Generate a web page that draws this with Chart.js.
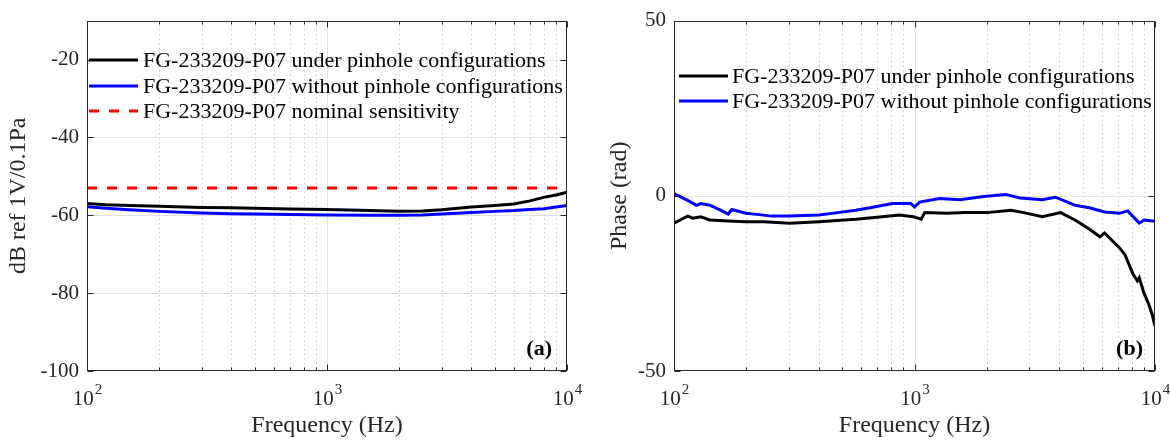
<!DOCTYPE html>
<html>
<head>
<meta charset="utf-8">
<script src="https://cdn.jsdelivr.net/npm/chart.js@4.4.0/dist/chart.umd.min.js"></script>
<style>
html, body { margin: 0; padding: 0; background: #fff; }
#wrap { width: 1170px; height: 443px; display: flex; }
.panel { width: 585px; height: 443px; }
</style>
</head>
<body>
<div id="wrap">
  <div class="panel"><canvas id="magChart" width="585" height="443"></canvas></div>
  <div class="panel"><canvas id="phaseChart" width="585" height="443"></canvas></div>
</div>
<script>
// ---- data ----
const freqMag = [100, 120, 150, 200, 300, 400, 500, 700, 1000, 1500, 2000, 2500, 3000, 4000, 5000, 6000, 7000, 8000, 9000, 10000];
const magUnder = [-57.0, -57.3, -57.5, -57.7, -58.0, -58.1, -58.2, -58.4, -58.5, -58.8, -59.0, -58.9, -58.6, -57.9, -57.5, -57.1, -56.3, -55.4, -54.8, -54.1];
const magWithout = [-57.8, -58.2, -58.6, -59.0, -59.4, -59.6, -59.7, -59.8, -59.9, -60.0, -60.0, -59.9, -59.7, -59.3, -59.0, -58.8, -58.5, -58.3, -57.9, -57.5];
const nominalFreq = [100, 10000];
const nominalSens = [-53, -53];

const freqPhaseUnder = [100, 106, 114, 120, 129, 141, 168, 199, 236, 303, 401, 570, 700, 865, 990, 1066, 1103, 1360, 1620, 2000,
  2520, 2850, 3400, 4050, 4650, 5330, 5900, 6170, 7110, 7500, 8100, 8450, 8600, 9000, 9400, 9700, 10000];
const phaseUnder = [-7.8, -6.9, -5.8, -6.4, -6.0, -6.9, -7.2, -7.4, -7.4, -7.8, -7.4, -6.7, -6.1, -5.5, -6.0, -6.7, -4.8, -5.0, -4.8, -4.8,
  -4.1, -4.8, -6.0, -4.8, -6.9, -9.5, -11.7, -10.6, -14.8, -16.8, -22.3, -24.3, -23.4, -27.8, -30.8, -33.5, -37.2];
const freqPhaseWithout = [100, 114, 124, 129, 141, 156, 168, 174, 199, 221, 255, 303, 401, 479, 570, 679, 809, 965, 1000, 1049,
  1270, 1545, 1940, 2390, 2750, 3400, 3850, 4330, 4650, 5330, 6170, 7110, 7700, 8600, 9000, 10000];
const phaseWithout = [0.6, -1.3, -2.7, -2.2, -2.7, -4.1, -5.2, -3.9, -5.0, -5.3, -5.8, -5.8, -5.5, -4.8, -4.1, -3.2, -2.2, -2.2, -3.2, -1.8,
  -0.8, -1.1, -0.2, 0.4, -0.6, -1.1, -0.4, -1.8, -2.7, -3.4, -4.6, -5.0, -4.3, -7.8, -6.9, -7.3];

const xMajor = [100, 1000, 10000];
const xMinor = [200, 300, 400, 500, 600, 700, 800, 900, 2000, 3000, 4000, 5000, 6000, 7000, 8000, 9000];
const magTicks = [-100, -80, -60, -40, -20];
const phaseTicks = [-50, 0, 50];

const labelA = 'FG-233209-P07 under pinhole configurations';
const labelB = 'FG-233209-P07 without pinhole configurations';
const labelC = 'FG-233209-P07 nominal sensitivity';

const SERIF = '"Liberation Serif", "Times New Roman", serif';
const AXIS = '#262626';

function toPoints(xs, ys) {
    return xs.map((f, i) => ({ x: f, y: ys[i] }));
}

// MATLAB-like axes: grid, box, inward ticks, 10^n labels, in-plot legend
const matlabAxes = {
    id: 'matlabAxes',
    beforeDatasetsDraw(chart, args, opts) {
        const { ctx, chartArea: a, scales: { x, y } } = chart;
        ctx.save();
        ctx.lineWidth = 1;
        ctx.strokeStyle = '#cccccc';
        ctx.setLineDash([1.5, 3]);
        xMinor.forEach(v => {
            const px = Math.round(x.getPixelForValue(v)) + 0.5;
            ctx.beginPath(); ctx.moveTo(px, a.top); ctx.lineTo(px, a.bottom); ctx.stroke();
        });
        ctx.setLineDash([]);
        ctx.strokeStyle = '#e2e2e2';
        xMajor.forEach(v => {
            const px = Math.round(x.getPixelForValue(v)) + 0.5;
            if (px < a.left + 2 || px > a.right - 2) return;
            ctx.beginPath(); ctx.moveTo(px, a.top); ctx.lineTo(px, a.bottom); ctx.stroke();
        });
        opts.yTicks.forEach(v => {
            const py = Math.round(y.getPixelForValue(v)) + 0.5;
            if (py < a.top + 2 || py > a.bottom - 2) return;
            ctx.beginPath(); ctx.moveTo(a.left, py); ctx.lineTo(a.right, py); ctx.stroke();
        });
        ctx.restore();
    },
    afterDatasetsDraw(chart, args, opts) {
        const { ctx, chartArea: a, scales: { x, y } } = chart;
        ctx.save();
        ctx.strokeStyle = AXIS;
        ctx.lineWidth = 1;
        const L = Math.round(a.left) + 0.5, R = Math.round(a.right) - 0.5;
        const T = Math.round(a.top) + 0.5, B = Math.round(a.bottom) - 0.5;
        ctx.strokeRect(L, T, R - L, B - T);

        ctx.beginPath();
        opts.yTicks.forEach(v => {
            const py = Math.round(y.getPixelForValue(v)) + 0.5;
            ctx.moveTo(L, py); ctx.lineTo(L + 6, py);
            ctx.moveTo(R, py); ctx.lineTo(R - 6, py);
        });
        xMajor.forEach(v => {
            const px = Math.round(x.getPixelForValue(v)) + 0.5;
            ctx.moveTo(px, B); ctx.lineTo(px, B - 6);
            ctx.moveTo(px, T); ctx.lineTo(px, T + 6);
        });
        xMinor.forEach(v => {
            const px = Math.round(x.getPixelForValue(v)) + 0.5;
            ctx.moveTo(px, B); ctx.lineTo(px, B - 3);
            ctx.moveTo(px, T); ctx.lineTo(px, T + 3);
        });
        ctx.stroke();

        // 10^n tick labels
        ctx.fillStyle = AXIS;
        ctx.textBaseline = 'alphabetic';
        xMajor.forEach(v => {
            const px = x.getPixelForValue(v);
            const exp = String(Math.round(Math.log10(v)));
            ctx.font = '21px ' + SERIF;
            const wBase = ctx.measureText('10').width;
            ctx.font = '15px ' + SERIF;
            const wExp = ctx.measureText(exp).width;
            const start = px - (wBase + wExp) / 2;
            ctx.font = '21px ' + SERIF;
            ctx.textAlign = 'left';
            ctx.fillText('10', start, 405);
            ctx.font = '15px ' + SERIF;
            ctx.fillText(exp, start + wBase + 1, 394);
        });

        // legend
        const lg = opts.legend;
        chart.data.datasets.forEach((ds, i) => {
            const ry = lg.rows[i];
            ctx.strokeStyle = ds.borderColor;
            ctx.lineWidth = 3;
            ctx.setLineDash(ds.borderDash || []);
            ctx.beginPath(); ctx.moveTo(lg.x0, ry); ctx.lineTo(lg.x1, ry); ctx.stroke();
            ctx.setLineDash([]);
            ctx.fillStyle = '#000';
            ctx.font = '22px ' + SERIF;
            ctx.textAlign = 'left';
            ctx.textBaseline = 'middle';
            ctx.fillText(ds.label, lg.textX, ry + 1);
        });

        // panel label
        ctx.fillStyle = '#000';
        ctx.font = 'bold 22px ' + SERIF;
        ctx.textAlign = 'right';
        ctx.textBaseline = 'alphabetic';
        ctx.fillText(opts.panel.text, opts.panel.x, opts.panel.y);
        ctx.restore();
    }
};

function makeChart(id, datasets, yMin, yMax, yTicks, yTitle, cfg) {
    const ctx = document.getElementById(id).getContext('2d');
    return new Chart(ctx, {
        type: 'line',
        data: { datasets: datasets },
        plugins: [matlabAxes],
        options: {
            responsive: false,
            animation: false,
            events: [],
            layout: { padding: { top: 13, right: cfg.padRight, bottom: 0, left: 0 } },
            elements: { point: { radius: 0 }, line: { tension: 0 } },
            scales: {
                x: {
                    type: 'logarithmic',
                    min: 100,
                    max: 10000,
                    ticks: { display: false },
                    grid: { display: false, drawTicks: false },
                    border: { display: false },
                    afterFit: s => { s.height = 72; },
                    title: {
                        display: true,
                        text: 'Frequency (Hz)',
                        color: AXIS,
                        font: { family: SERIF, size: 24 },
                        padding: { top: 0, bottom: 3 }
                    }
                },
                y: {
                    type: 'linear',
                    min: yMin,
                    max: yMax,
                    afterBuildTicks: s => { s.ticks = yTicks.map(v => ({ value: v })); },
                    ticks: { color: AXIS, font: { family: SERIF, size: 21 }, padding: 8 },
                    grid: { display: false, drawTicks: false },
                    border: { display: false },
                    afterFit: s => { s.width = cfg.yWidth; },
                    title: {
                        display: true,
                        text: yTitle,
                        color: AXIS,
                        font: { family: SERIF, size: 24 },
                        padding: { top: cfg.titlePad, bottom: 0 }
                    }
                }
            },
            plugins: {
                legend: { display: false },
                tooltip: { enabled: false },
                matlabAxes: { yTicks: yTicks, legend: cfg.legend, panel: cfg.panel }
            }
        }
    });
}

makeChart('magChart', [
    { label: labelA, data: toPoints(freqMag, magUnder), borderColor: '#000000', borderWidth: 3 },
    { label: labelB, data: toPoints(freqMag, magWithout), borderColor: '#0000ff', borderWidth: 3 },
    { label: labelC, data: toPoints(nominalFreq, nominalSens), borderColor: '#ff0000', borderWidth: 3, borderDash: [10, 10] }
], -100, -10, magTicks, 'dB ref 1V/0.1Pa', {
    padRight: 18, yWidth: 87, titlePad: 4,
    legend: { x0: 89, x1: 138, textX: 143, rows: [60, 86, 111] },
    panel: { text: '(a)', x: 552, y: 355 }
});

makeChart('phaseChart', [
    { label: labelA, data: toPoints(freqPhaseUnder, phaseUnder), borderColor: '#000000', borderWidth: 3 },
    { label: labelB, data: toPoints(freqPhaseWithout, phaseWithout), borderColor: '#0000ff', borderWidth: 3 }
], -50, 50, phaseTicks, 'Phase (rad)', {
    padRight: 15, yWidth: 89, titlePad: 20,
    legend: { x0: 94, x1: 143, textX: 147, rows: [76, 101] },
    panel: { text: '(b)', x: 558, y: 355 }
});
</script>
</body>
</html>
